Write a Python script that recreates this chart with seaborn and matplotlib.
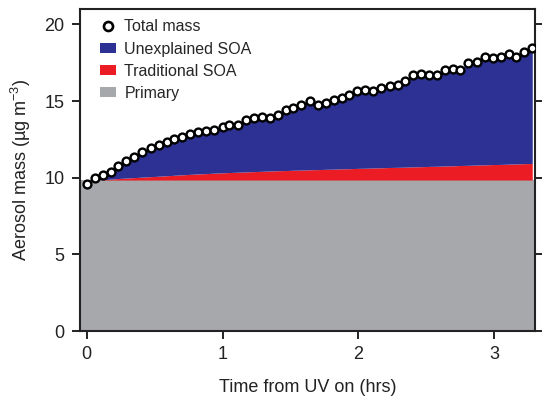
import numpy as np
import pandas as pd
import matplotlib
matplotlib.use("Agg")
import matplotlib.pyplot as plt
import seaborn as sns
from matplotlib.lines import Line2D
from matplotlib.patches import Patch

# hours after UV lights on
time_hrs = [0.00, 0.06, 0.12, 0.18, 0.23, 0.29, 0.35, 0.41, 0.47, 0.53,
            0.59, 0.64, 0.70, 0.76, 0.82, 0.88, 0.94, 1.00, 1.05, 1.11,
            1.17, 1.23, 1.29, 1.35, 1.41, 1.47, 1.52, 1.58, 1.64, 1.70,
            1.76, 1.82, 1.88, 1.93, 1.99, 2.05, 2.11, 2.17, 2.23, 2.29,
            2.34, 2.40, 2.46, 2.52, 2.58, 2.64, 2.70, 2.75, 2.81, 2.87,
            2.93, 2.99, 3.05, 3.11, 3.16, 3.22, 3.28]

total_mass = [9.57, 9.96, 10.18, 10.39, 10.79, 11.11, 11.38, 11.70, 11.93, 12.14,
              12.36, 12.53, 12.69, 12.86, 13.01, 13.06, 13.12, 13.34, 13.45, 13.45,
              13.78, 13.89, 13.99, 13.89, 14.11, 14.43, 14.54, 14.76, 14.98, 14.76,
              14.87, 15.09, 15.20, 15.42, 15.63, 15.74, 15.63, 15.85, 15.96, 16.07,
              16.29, 16.73, 16.79, 16.73, 16.73, 17.06, 17.10, 17.06, 17.49, 17.53,
              17.88, 17.82, 17.88, 18.10, 17.88, 18.21, 18.47]

traditional_soa = [0.00, 0.00, 0.02, 0.06, 0.10, 0.13, 0.16, 0.19, 0.22, 0.25,
                   0.28, 0.31, 0.34, 0.37, 0.40, 0.42, 0.45, 0.47, 0.49, 0.51,
                   0.53, 0.55, 0.57, 0.59, 0.61, 0.62, 0.64, 0.65, 0.67, 0.68,
                   0.70, 0.71, 0.73, 0.74, 0.76, 0.77, 0.79, 0.80, 0.82, 0.83,
                   0.84, 0.86, 0.87, 0.89, 0.90, 0.92, 0.93, 0.95, 0.96, 0.98,
                   0.99, 1.01, 1.02, 1.04, 1.05, 1.07, 1.08]

primary_mass = 9.85

df = pd.DataFrame({"time": time_hrs, "total": total_mass, "trad": traditional_soa})
df["trad_top"] = primary_mass + df["trad"]
df["soa_top"] = np.maximum(df["total"], df["trad_top"])

BLUE = "#2c3193"
RED = "#ec1c24"
GREY = "#a6a8ab"

sns.set_style("ticks")
plt.rcParams["font.family"] = ["Liberation Sans", "DejaVu Sans"]
plt.rcParams["mathtext.fontset"] = "custom"
plt.rcParams["mathtext.rm"] = "Liberation Sans"
plt.rcParams["mathtext.it"] = "Liberation Sans"

fig = plt.figure(figsize=(5.42, 3.96), dpi=100)
ax = fig.add_axes([0.1476, 0.164, 0.8394, 0.813])

ax.axhspan(0, primary_mass, color=GREY, lw=0)
ax.fill_between(df["time"], primary_mass, df["trad_top"], color=RED, lw=0)
ax.fill_between(df["time"], df["trad_top"], df["soa_top"], color=BLUE, lw=0)

sns.scatterplot(data=df, x="time", y="total", ax=ax, marker="o", s=32,
                facecolor="white", edgecolor="black", linewidth=1.7, zorder=5)

ax.set_xlim(-0.05, 3.30)
ax.set_ylim(0, 21)
ax.set_xticks([0, 1, 2, 3])
ax.set_yticks([0, 5, 10, 15, 20])
ax.tick_params(axis="both", direction="out", length=6, width=1.4, labelsize=13,
               colors="#222222", pad=5)
ax.tick_params(axis="y", right=True)
for sp in ax.spines.values():
    sp.set_linewidth(1.5)
    sp.set_color("#222222")

ax.set_xlabel("Time from UV on (hrs)", fontsize=13, labelpad=11, color="#222222")
ax.set_ylabel("Aerosol mass (µg m$^{-3}$)", fontsize=13, labelpad=8, color="#222222")

handles = [
    Line2D([], [], marker="o", linestyle="none", markersize=6.5,
           markerfacecolor="white", markeredgecolor="black", markeredgewidth=1.9),
    Patch(color=BLUE, lw=0),
    Patch(color=RED, lw=0),
    Patch(color=GREY, lw=0),
]
labels = ["Total mass", "Unexplained SOA", "Traditional SOA", "Primary"]
ax.legend(handles, labels, loc="upper left", bbox_to_anchor=(0.045, 0.968),
          frameon=False, fontsize=11.5, handlelength=1.0, handleheight=0.6,
          handletextpad=0.5, labelspacing=0.45, borderpad=0, borderaxespad=0)

fig.savefig("out.png", dpi=100)
